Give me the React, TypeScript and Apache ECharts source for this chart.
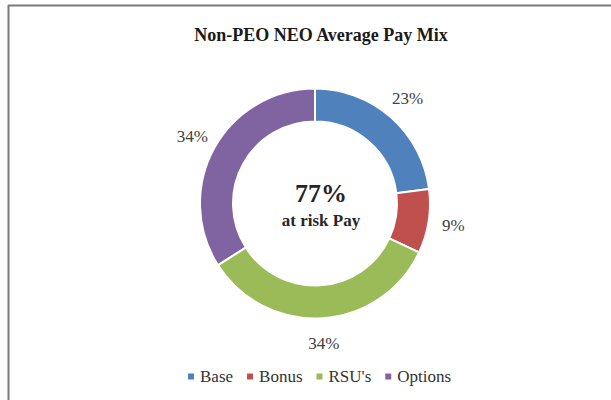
import React, { useEffect, useRef } from "react";
import * as echarts from "echarts";

const categories = ["Base", "Bonus", "RSU's", "Options"];
const values = [23, 9, 34, 34];
const colors = ["#4F81BD", "#C0504D", "#9BBB59", "#8064A2"];
const titleText = "Non-PEO NEO Average Pay Mix";
const centerValue = "77%";
const centerCaption = "at risk Pay";

const FONT = "'Liberation Serif', 'Times New Roman', serif";

export default function App() {
  const ref = useRef<HTMLDivElement>(null);
  useEffect(() => {
    if (!ref.current) return;
    const chart = echarts.init(ref.current, undefined, { renderer: "svg" });
    const data = categories.map((name, i) => ({
      name,
      value: values[i],
      itemStyle: { color: colors[i] },
    }));
    const labelData = categories.map((name, i) => ({ name, value: values[i] }));
    chart.setOption({
      animation: false,
      backgroundColor: "#ffffff",
      title: [
        {
          text: titleText,
          left: 316,
          top: 21,
          textAlign: "center",
          textStyle: { fontFamily: FONT, fontSize: 18, fontWeight: "bold", color: "#1a1a1a" },
        },
        {
          text: centerValue,
          left: 316,
          top: 175,
          textAlign: "center",
          textStyle: { fontFamily: FONT, fontSize: 26, fontWeight: "bold", color: "#262626" },
        },
        {
          text: centerCaption,
          left: 316,
          top: 207,
          textAlign: "center",
          textStyle: { fontFamily: FONT, fontSize: 17, fontWeight: "bold", color: "#262626" },
        },
      ],
      legend: {
        data: categories,
        bottom: 10,
        left: 181,
        itemWidth: 8,
        itemHeight: 8,
        itemGap: 12,
        icon: "rect",
        textStyle: { fontFamily: FONT, fontSize: 17, color: "#333333" },
      },
      graphic: [
        {
          type: "line",
          shape: { x1: 8, y1: 5.5, x2: 611, y2: 5.5 },
          style: { stroke: "#7a7a7a", lineWidth: 2 },
        },
        {
          type: "line",
          shape: { x1: 8.5, y1: 5, x2: 8.5, y2: 400 },
          style: { stroke: "#7a7a7a", lineWidth: 2 },
        },
      ],
      series: [
        {
          type: "pie",
          center: [315, 203.5],
          radius: [82, 115],
          startAngle: 90,
          clockwise: true,
          data,
          label: { show: false },
          labelLine: { show: false },
          itemStyle: { borderColor: "#ffffff", borderWidth: 2 },
          emphasis: { disabled: true },
          silent: true,
        },
        {
          type: "pie",
          center: [315, 203.5],
          radius: [121, 153],
          startAngle: 90,
          clockwise: true,
          data: labelData,
          itemStyle: { color: "transparent" },
          label: {
            show: true,
            position: "inside",
            formatter: "{c}%",
            fontFamily: FONT,
            fontSize: 17,
            color: "#404040",
          },
          labelLine: { show: false },
          emphasis: { disabled: true },
          silent: true,
          legendHoverLink: false,
        },
      ],
    });
    return () => chart.dispose();
  }, []);
  return (
    <div
      ref={ref}
      style={{ position: "fixed", left: 0, top: 0, width: 611, height: 400 }}
    />
  );
}
